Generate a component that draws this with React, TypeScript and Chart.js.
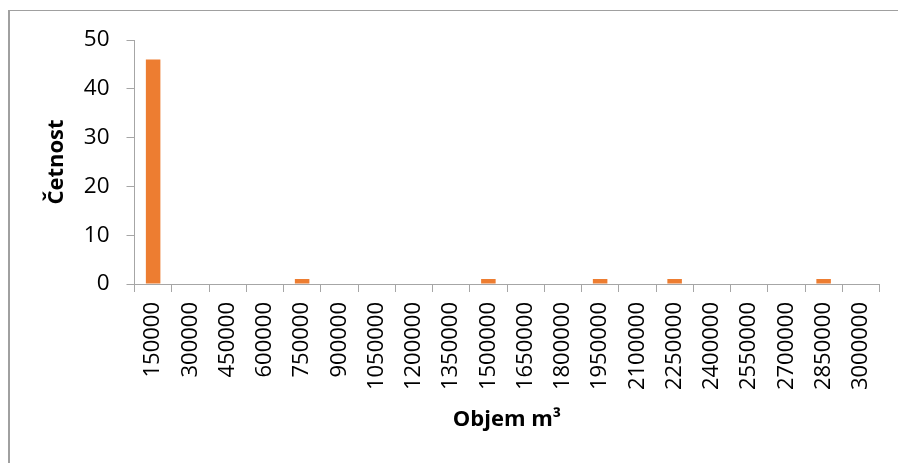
import React, { useEffect, useRef } from "react";
import { Chart, registerables } from "chart.js";

Chart.register(...registerables);

const categories: string[] = [
  "150000", "300000", "450000", "600000", "750000", "900000", "1050000",
  "1200000", "1350000", "1500000", "1650000", "1800000", "1950000",
  "2100000", "2250000", "2400000", "2550000", "2700000", "2850000", "3000000",
];
const frequencies: number[] = [46, 0, 0, 0, 1, 0, 0, 0, 0, 1, 0, 0, 1, 0, 1, 0, 0, 0, 1, 0];
const yTicks: number[] = [0, 10, 20, 30, 40, 50];
const yTitle = "Četnost";
const xTitle = "Objem m³";

export default function App() {
  const ref = useRef<HTMLCanvasElement | null>(null);

  useEffect(() => {
    if (!ref.current) return;
    const axisColor = "#a6a6a6";
    const chart = new Chart(ref.current, {
      type: "bar",
      data: {
        labels: categories,
        datasets: [
          {
            data: frequencies,
            backgroundColor: "#ED7D31",
            borderWidth: 0,
            barPercentage: 0.39,
            categoryPercentage: 1,
          },
        ],
      },
      options: {
        animation: false,
        responsive: false,
        devicePixelRatio: 1,
        layout: { padding: { top: 40, right: 18.5, left: 0, bottom: 0 } },
        plugins: { legend: { display: false }, tooltip: { enabled: false } },
        scales: {
          x: {
            offset: true,
            grid: {
              display: true,
              drawOnChartArea: false,
              drawTicks: true,
              tickLength: 8,
              color: axisColor,
              offset: true,
            },
            border: { display: true, color: axisColor },
            ticks: {
              maxRotation: 90,
              minRotation: 90,
              autoSkip: false,
              padding: 10,
              color: "#000",
              font: { family: "Open Sans", size: 22 },
            },
            title: {
              display: true,
              text: xTitle,
              color: "#000",
              font: { family: "Open Sans", size: 22, weight: "bold" },
              padding: { top: 0, bottom: 30 },
            },
            afterFit: (scale: any) => {
              scale.height = 179;
            },
          },
          y: {
            min: 0,
            max: 50,
            afterBuildTicks: (scale: any) => {
              scale.ticks = yTicks.map((v) => ({ value: v }));
            },
            grid: {
              display: true,
              drawOnChartArea: false,
              drawTicks: true,
              tickLength: 8,
              color: axisColor,
            },
            border: { display: true, color: axisColor },
            ticks: {
              padding: 17,
              color: "#000",
              font: { family: "Open Sans", size: 22.5 },
            },
            title: {
              display: true,
              text: yTitle,
              color: "#000",
              font: { family: "Open Sans", size: 22, weight: "bold" },
              padding: { top: 44, bottom: 0 },
            },
            afterFit: (scale: any) => {
              scale.width = 134.5;
            },
          },
        },
      },
    });
    return () => chart.destroy();
  }, []);

  return (
    <div style={{ position: "fixed", left: 0, top: 0, width: 898, height: 463, background: "#fff" }}>
      <div
        style={{
          position: "absolute",
          left: 8,
          top: 10,
          width: 900,
          height: 470,
          borderTop: "1px solid #a0a0a0",
          borderLeft: "2px solid #a0a0a0",
          boxSizing: "border-box",
        }}
      />
      <canvas
        ref={ref}
        width={898}
        height={463}
        style={{ position: "absolute", left: 0, top: 0, width: 898, height: 463 }}
      />
    </div>
  );
}
